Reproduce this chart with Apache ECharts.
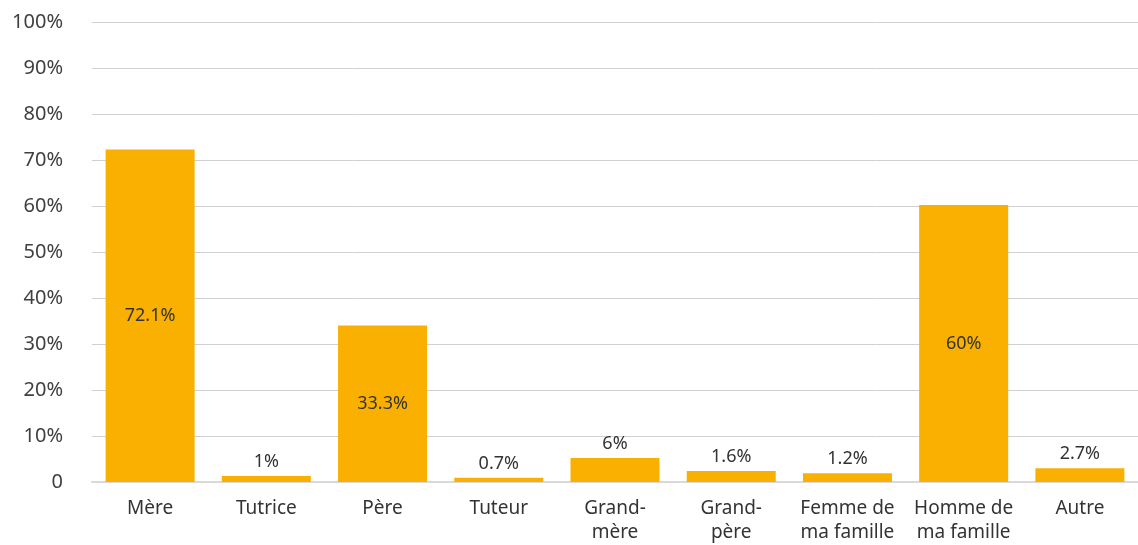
<!DOCTYPE html>
<html><head><meta charset="utf-8">
<script src="https://cdn.jsdelivr.net/npm/echarts@6/dist/echarts.min.js"></script>
<style>html,body{margin:0;padding:0;background:#fff}#c{width:1138px;height:545px}</style>
</head><body><div id="c"></div>
<script>
const categories = ['Mère','Tutrice','Père','Tuteur','Grand-\nmère','Grand-\npère','Femme de\nma famille','Homme de\nma famille','Autre'];
const values = [72.3, 1.3, 34.0, 0.9, 5.2, 2.4, 1.9, 60.2, 3.0];
const valueLabels = ['72.1%','1%','33.3%','0.7%','6%','1.6%','1.2%','60%','2.7%'];
const insideLabel = [true,false,true,false,false,false,false,true,false];
const yTicks = [0,10,20,30,40,50,60,70,80,90,100];

const FONT = '"Noto Sans", sans-serif';
const chart = echarts.init(document.getElementById('c'), null, {renderer:'canvas'});
chart.setOption({
  animation:false,
  grid:{left:92,right:-2,top:22,bottom:61,containLabel:false},
  xAxis:{type:'category',data:categories,
    axisLine:{lineStyle:{color:'#d9d9d9',width:2}},axisTick:{show:false},
    axisLabel:{color:'#333',fontFamily:FONT,fontSize:19,lineHeight:24,margin:15,interval:0}},
  yAxis:{type:'value',min:yTicks[0],max:yTicks[yTicks.length-1],interval:10,
    axisLine:{show:false},axisTick:{show:false},
    splitLine:{lineStyle:{color:'#d0d0d0',width:1}},
    axisLabel:{color:'#404040',fontFamily:FONT,fontSize:20,margin:29,
      formatter:v=>v===0?'0':v+'%'}},
  series:[{type:'bar',barWidth:89,itemStyle:{color:'#F9B000'},
    data:values.map((v,i)=>({value:v,label:{show:true,position:insideLabel[i]?'inside':'top',distance:5,
      formatter:valueLabels[i],color:'#333',fontFamily:FONT,fontSize:18}}))}]
});
</script></body></html>
